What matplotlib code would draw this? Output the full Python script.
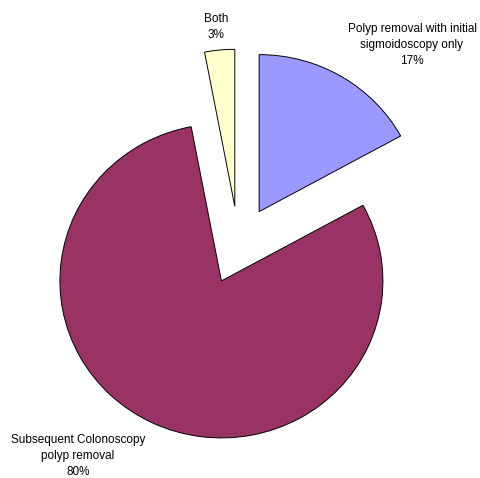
import matplotlib.pyplot as plt

# data
labels = ['Polyp removal with initial\nsigmoidoscopy only',
          'Subsequent Colonoscopy\npolyp removal',
          'Both']
values = [17, 80, 3]
colors = ['#9999FF', '#993366', '#FFFFCC']
# label positions in pixels (x, y from top)
label_px = [(412, 45), (78, 456), (216, 27)]

W, H = 481, 478
cx, cy = 238.6, 245.4
rx, ry = 161.5, 157.0

plt.rcParams['font.family'] = ['Liberation Sans', 'DejaVu Sans']
fig = plt.figure(figsize=(W / 100, H / 100), dpi=100)
ax = fig.add_axes([0, 0, 1, 1])

ax.pie(values, colors=colors, startangle=90, counterclock=False,
       explode=[0.25] * len(values), radius=1,
       wedgeprops=dict(edgecolor='black', linewidth=0.7))

ax.set_xlim(-cx / rx, (W - cx) / rx)
ax.set_ylim(-(H - cy) / ry, cy / ry)
ax.set_aspect('auto')
ax.axis('off')

for lab, v, (px, py) in zip(labels, values, label_px):
    ax.text((px - cx) / rx, (cy - py) / ry, f'{lab}\n{v}%',
            ha='center', va='center', fontsize=8.5, linespacing=1.4)

fig.savefig('out.png', dpi=100, facecolor='white')
